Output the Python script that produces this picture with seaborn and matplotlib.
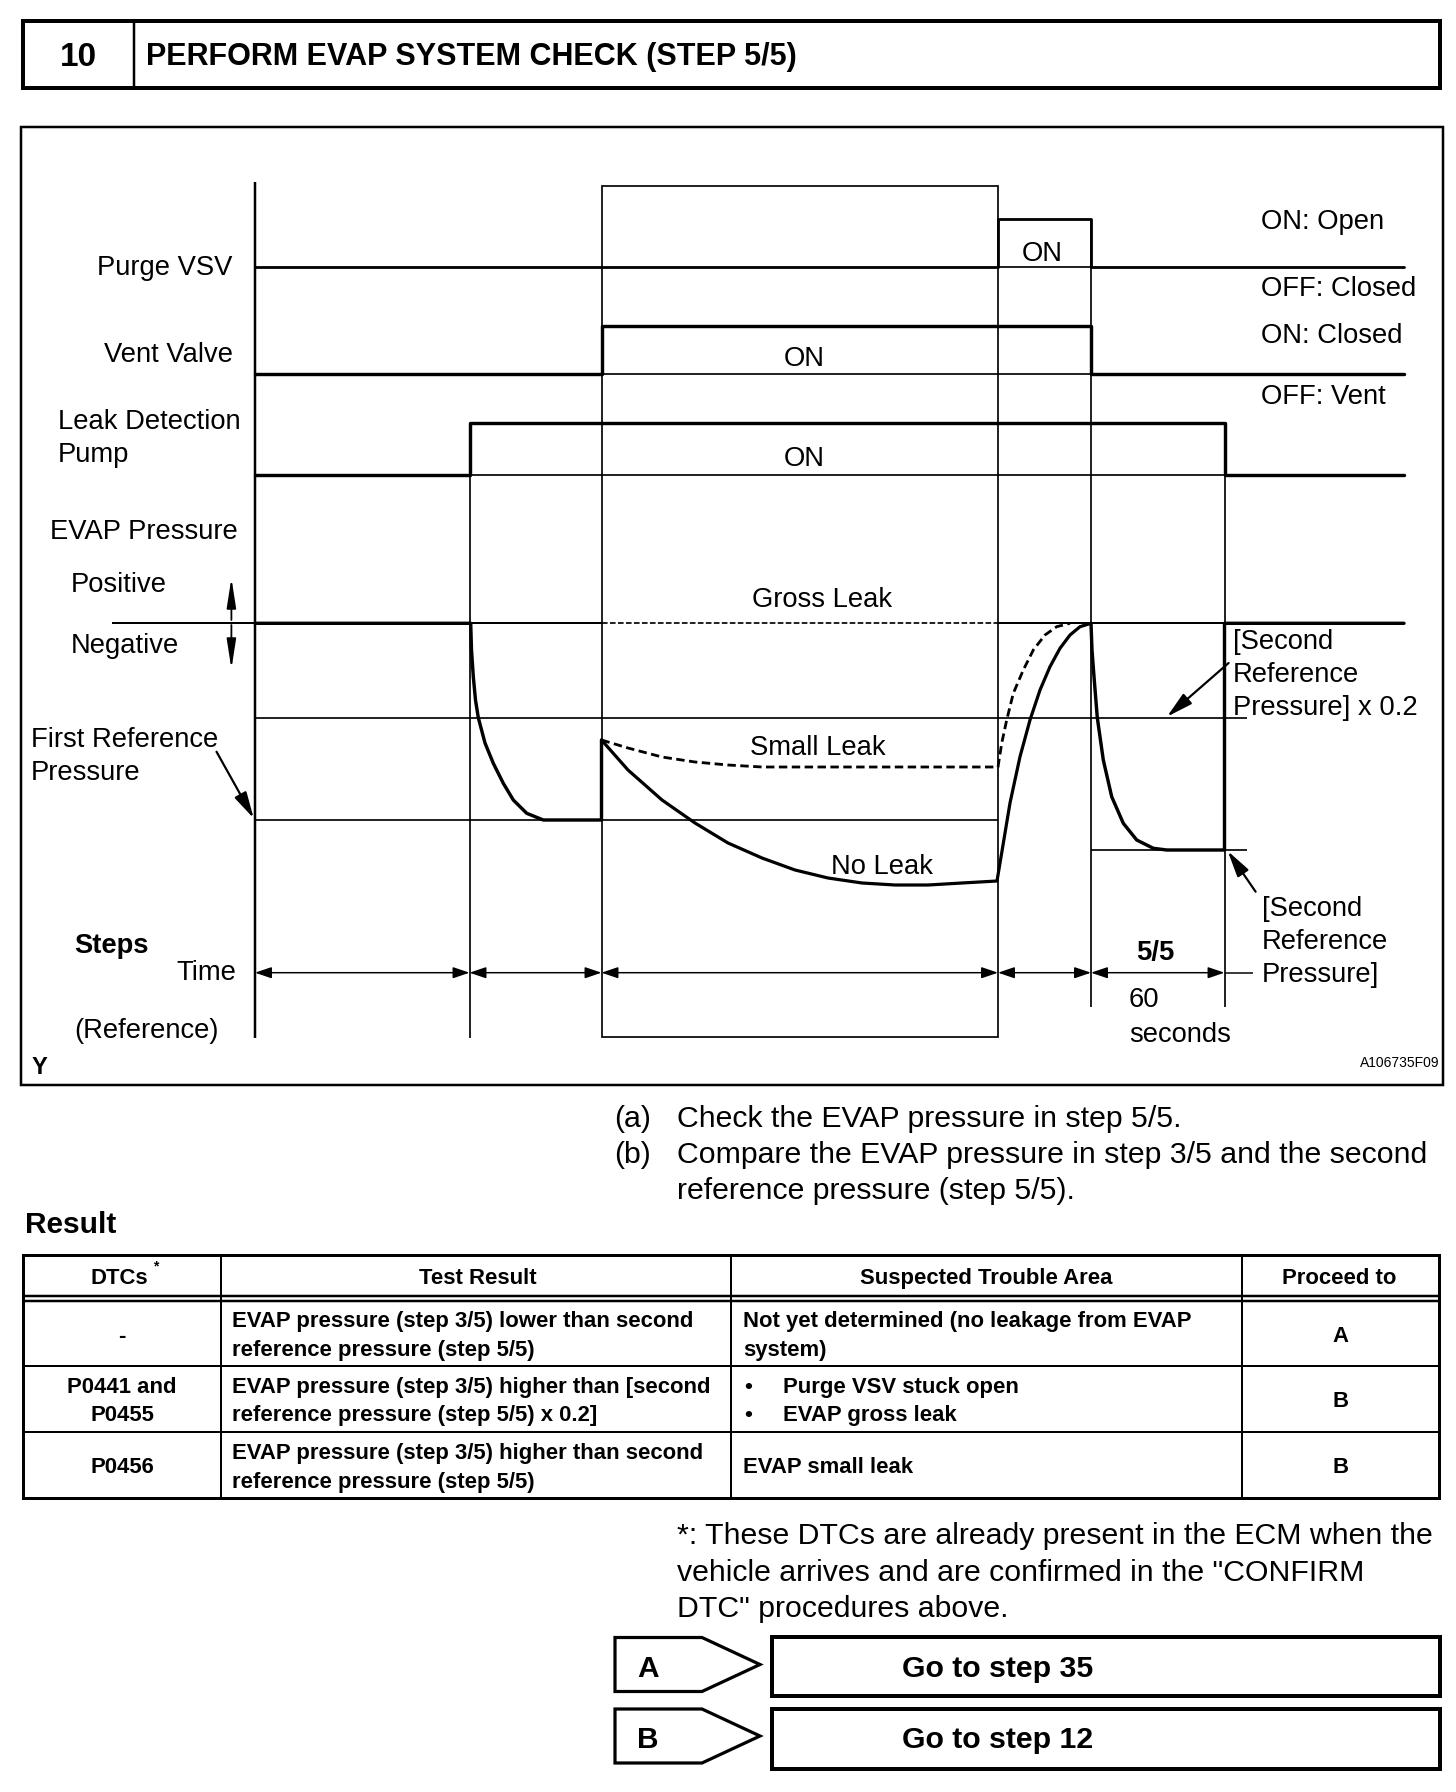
import seaborn as sns
import matplotlib.pyplot as plt
from matplotlib.patches import Rectangle, Polygon

# ---------------- data ----------------
# step boundaries on the time axis (diagram x units)
step_edges = [255, 469.5, 601.5, 998, 1091, 1224.5]
trace_end = 1404

# on/off states of the three actuators
purge_t = [255, 998, 1091, 1404]
purge_on = [0, 1, 0, 0]
vent_t = [255, 601.5, 1091, 1404]
vent_on = [0, 1, 0, 0]
pump_t = [255, 469.5, 1224.5, 1404]
pump_on = [0, 1, 0, 0]
off_level = [266.7, 374.3, 475]
on_level = [219, 326, 423.3]

# EVAP pressure reference levels
p_zero = 623.3
p_ref2_x02 = 717.7
p_ref1 = 820
p_ref2 = 850

# pressure traces
pumpdown_x = [255, 469.5, 470.7, 471.5, 473.3, 475.5, 478.3, 485, 493.3, 503.3,
              513.3, 526.7, 543.3, 601.5, 601.5]
pumpdown_y = [623.3, 623.3, 623.3, 650, 676.7, 700, 717.7, 743, 763.3, 783.3,
              800, 813.3, 820, 820, 740]
noleak_x = [601.5, 628, 662, 695, 728, 762, 795, 828, 862, 895, 928, 962, 997,
            1003.3, 1010, 1020, 1030, 1040, 1050, 1060, 1070, 1080, 1091]
noleak_y = [740, 770, 800, 823, 843, 858, 870, 878, 883, 885, 885, 883, 881,
            843.3, 803, 756.7, 720, 690, 666.7, 648.3, 635, 626.7, 623.3]
smallleak_x = [601.5, 628, 662, 695, 728, 762, 998, 1001.7, 1006.7, 1013.3,
               1023.3, 1033.3, 1045, 1056.7, 1070]
smallleak_y = [740, 748, 757, 762, 765, 767, 767, 743.3, 720, 693.3,
               670, 650, 635, 626.7, 623.3]
grossleak_x = [601.5, 998]
grossleak_y = [623.3, 623.3]
step5_x = [1091, 1092, 1094, 1097.3, 1103.3, 1111.7, 1123.3, 1136.7, 1153.3,
           1166.7, 1224.5, 1224.5, 1404]
step5_y = [623.3, 650, 676.7, 717.7, 760, 796.7, 823.3, 840, 848.3,
           850, 850, 623.3, 623.3]

# text content
title_no = '10'
title = 'PERFORM EVAP SYSTEM CHECK (STEP 5/5)'
instructions = [('(a)', ['Check the EVAP pressure in step 5/5.']),
                ('(b)', ['Compare the EVAP pressure in step 3/5 and the second',
                         'reference pressure (step 5/5).'])]
table_header = ['DTCs', 'Test Result', 'Suspected Trouble Area', 'Proceed to']
dtc_codes = [['-'], ['P0441 and', 'P0455'], ['P0456']]
test_results = [['EVAP pressure (step 3/5) lower than second',
                 'reference pressure (step 5/5)'],
                ['EVAP pressure (step 3/5) higher than [second',
                 'reference pressure (step 5/5) x 0.2]'],
                ['EVAP pressure (step 3/5) higher than second',
                 'reference pressure (step 5/5)']]
trouble_areas = [['Not yet determined (no leakage from EVAP', 'system)'],
                 ['\u2022Purge VSV stuck open', '\u2022EVAP gross leak'],
                 ['EVAP small leak']]
proceed_to = ['A', 'B', 'B']
footnote = ['*: These DTCs are already present in the ECM when the',
            'vehicle arrives and are confirmed in the "CONFIRM',
            'DTC" procedures above.']
goto_labels = ['A', 'B']
goto_steps = ['Go to step 35', 'Go to step 12']

# ---------------- styling ----------------
sns.set_style('white')
plt.rcParams['font.family'] = ['Liberation Sans', 'DejaVu Sans']
PX = 0.72  # points per pixel at 100 dpi
K = 'black'

fig = plt.figure(figsize=(14.56, 17.92), dpi=100)
ax = fig.add_axes([0, 0, 1, 1])
ax.set_xlim(0, 1456)
ax.set_ylim(1792, 0)
ax.axis('off')


def lw(px):
    return px * PX


def txt(x, y, s, size, ha='left', weight='normal', **kw):
    # y is the middle of the capitals; convert to baseline
    base = y + 0.358 * size / PX
    ax.text(x, base, s, fontsize=size, ha=ha, va='baseline',
            fontweight=weight, color=K, **kw)


def hline(y, x0, x1, w=1.7, **kw):
    ax.plot([x0, x1], [y, y], color=K, lw=lw(w), solid_capstyle='butt', **kw)


def vline(x, y0, y1, w=1.7, **kw):
    ax.plot([x, x], [y0, y1], color=K, lw=lw(w), solid_capstyle='butt', **kw)


def arrow(p0, p1, style='-|>', hl=0.8, hw=0.2, w=2.0):
    ax.annotate('', xy=p1, xytext=p0,
                arrowprops=dict(arrowstyle=f'{style},head_length={hl},head_width={hw}',
                                color=K, lw=lw(w), shrinkA=0, shrinkB=0,
                                mutation_scale=20))


# ---------------- header ----------------
ax.add_patch(Rectangle((23, 21), 1417, 67, fill=False, ec=K, lw=lw(4)))
vline(133.5, 21, 88, w=2.5)
txt(78, 54, title_no, 24, ha='center', weight='bold')
txt(146.5, 54, title, 22.0, weight='bold')

# ---------------- timing diagram ----------------
ax.add_patch(Rectangle((21, 127), 1422, 958, fill=False, ec=K, lw=lw(2.5)))

FS = 19.7
# grid / frame lines
vline(step_edges[0], 181.7, 1038, w=2.5)
vline(step_edges[1], on_level[2], 1038)
ax.add_patch(Rectangle((step_edges[2], 185.7), step_edges[3] - step_edges[2],
                       1036.7 - 185.7, fill=False, ec=K, lw=lw(1.7)))
vline(step_edges[4], on_level[0], 1006.7)
vline(step_edges[5], on_level[2], 1006.7)

# actuator traces
for i, (t, s, w) in enumerate([(purge_t, purge_on, 2.8),
                               (vent_t, vent_on, 3.4),
                               (pump_t, pump_on, 3.4)]):
    y = [off_level[i] - v * (off_level[i] - on_level[i]) for v in s]
    sns.lineplot(x=t, y=y, ax=ax, color=K, lw=lw(w), drawstyle='steps-post',
                 estimator=None, legend=False)
hline(off_level[0], purge_t[1], purge_t[2])
hline(off_level[1], vent_t[1], vent_t[2])
hline(off_level[2], pump_t[1], pump_t[2])

# pressure reference lines
hline(p_zero, 112, step_edges[0], w=2)
hline(p_zero, step_edges[1], step_edges[2], w=2)
hline(p_zero, step_edges[3], step_edges[5], w=2)
hline(p_ref2_x02, step_edges[0], 1247)
hline(p_ref1, step_edges[0], step_edges[3])
hline(p_ref2, step_edges[4], 1247)

# pressure traces
sns.lineplot(x=pumpdown_x, y=pumpdown_y, ax=ax, color=K, lw=lw(3.4),
             sort=False, estimator=None, legend=False)
sns.lineplot(x=grossleak_x, y=grossleak_y, ax=ax, color=K, lw=lw(1.7),
             linestyle=(0, (3.3, 1.4)), sort=False, estimator=None, legend=False)
sns.lineplot(x=smallleak_x, y=smallleak_y, ax=ax, color=K, lw=lw(2.8),
             linestyle=(0, (3.0, 1.6)), sort=False, estimator=None, legend=False)
sns.lineplot(x=noleak_x, y=noleak_y, ax=ax, color=K, lw=lw(3.2),
             sort=False, estimator=None, legend=False)
sns.lineplot(x=step5_x, y=step5_y, ax=ax, color=K, lw=lw(3.4),
             sort=False, estimator=None, legend=False)

# time row arrows
t_row = 972.7
for a, b in zip(step_edges[:-1], step_edges[1:]):
    arrow((a, t_row), (b, t_row), style='<|-|>', hl=0.5, hw=0.17, w=1.5)
hline(t_row, step_edges[5], 1253, w=1.5)

# pointer arrows
arrow((216.5, 751.7), (253.7, 818.3), w=2.2)
arrow((1228.6, 663), (1167, 716.7), w=2.2)
arrow((1255.6, 891.7), (1227.7, 851), w=2.2)
arrow((231.4, 620), (231.4, 578), hl=0.9, hw=0.14, w=1.8)
arrow((231.4, 625), (231.4, 669), hl=0.9, hw=0.14, w=1.8)

# diagram labels
txt(232, 265, 'Purge VSV', FS, ha='right')
txt(232.8, 352, 'Vent Valve', FS, ha='right')
txt(58, 419, 'Leak Detection', FS)
txt(58, 452, 'Pump', FS)
txt(50, 529, 'EVAP Pressure', FS)
txt(71, 582, 'Positive', FS)
txt(71, 643, 'Negative', FS)
txt(31, 737, 'First Reference', FS)
txt(31, 770, 'Pressure', FS)
txt(74.5, 943, 'Steps', FS, weight='bold')
txt(236, 970, 'Time', FS, ha='right')
txt(74.5, 1028, '(Reference)', FS)
txt(32, 1066, 'Y', 17, weight='bold')

txt(1042, 251, 'ON', FS, ha='center')
txt(804.5, 356, 'ON', FS, ha='center')
txt(804.5, 456.5, 'ON', FS, ha='center')
txt(1261, 219, 'ON: Open', FS)
txt(1261, 286, 'OFF: Closed', FS)
txt(1261, 333, 'ON: Closed', FS)
txt(1261, 394, 'OFF: Vent', FS)

txt(822, 597.5, 'Gross Leak', FS, ha='center')
txt(818, 745, 'Small Leak', FS, ha='center')
txt(882, 864, 'No Leak', FS, ha='center')

for y, s in zip([639, 672, 705], ['[Second', 'Reference', 'Pressure] x 0.2']):
    txt(1233, y, s, FS)
for y, s in zip([906, 939.5, 972.6], ['[Second', 'Reference', 'Pressure]']):
    txt(1262, y, s, FS)
txt(1155.6, 950, '5/5', FS, ha='center', weight='bold')
txt(1129, 997.7, '60', FS)
txt(1129, 1032, 'seconds', FS)
txt(1439, 1062, 'A106735F09', 10, ha='right')

# ---------------- instructions ----------------
BS = 21.8
iy = [1116, 1152]
for (tag, lines), y in zip(instructions, iy):
    txt(614, y, tag, BS)
    for j, line in enumerate(lines):
        txt(677, y + 36 * j, line, BS)

txt(25, 1222, 'Result', 21.5, weight='bold')

# ---------------- result table ----------------
col_x = [23, 221, 731, 1241.5, 1439]
row_y = [1255, 1296.5, 1301.5, 1366, 1432.3, 1498.5]
TS = 15.9
ax.add_patch(Rectangle((col_x[0], row_y[0]), col_x[-1] - col_x[0],
                       row_y[-1] - row_y[0], fill=False, ec=K, lw=lw(3)))
for x in col_x[1:-1]:
    vline(x, row_y[0], row_y[-1], w=2)
hline(row_y[1], col_x[0], col_x[-1], w=2.5)
hline(row_y[2], col_x[0], col_x[-1], w=2.5)
for y in row_y[3:5]:
    hline(y, col_x[0], col_x[-1], w=2)

hy = (row_y[0] + row_y[1]) / 2
txt(119, hy, table_header[0], TS, ha='center', weight='bold')
txt(153, hy - 10, '*', 10, weight='bold')
for c, s in zip([477.5, 986.5, 1339.5], table_header[1:]):
    txt(c, hy, s, TS, ha='center', weight='bold')

bounds = row_y[2:]
for r in range(3):
    mid = (bounds[r] + bounds[r + 1]) / 2

    def cell_lines(lines):
        n = len(lines)
        return [mid + 28.4 * (j - (n - 1) / 2) for j in range(n)]

    for y, s in zip(cell_lines(dtc_codes[r]), dtc_codes[r]):
        txt(122, y, s, TS, ha='center', weight='bold')
    for y, s in zip(cell_lines(test_results[r]), test_results[r]):
        txt(232, y, s, TS, weight='bold')
    for y, s in zip(cell_lines(trouble_areas[r]), trouble_areas[r]):
        if s.startswith('\u2022'):
            txt(744, y, '\u2022', TS, weight='bold')
            txt(783, y, s[1:], TS, weight='bold')
        else:
            txt(743, y, s, TS, weight='bold')
    txt(1340.5, mid, proceed_to[r], TS, ha='center', weight='bold')

# ---------------- footnote ----------------
for y, s in zip([1533, 1570, 1606], footnote):
    txt(677, y, s, BS)

# ---------------- go-to boxes ----------------
box_top = [1637.5, 1709]
tag_h = [54, 54]
box_h = [59, 60]
for top, th, bh, tag, step in zip(box_top, tag_h, box_h, goto_labels, goto_steps):
    ax.add_patch(Polygon([(615, top), (702, top), (760, top + th / 2),
                          (702, top + th), (615, top + th)],
                         closed=True, fill=False, ec=K, lw=lw(3.2)))
    ax.add_patch(Rectangle((772, top), 1440 - 772, bh, fill=False, ec=K, lw=lw(4)))
    txt(648, top + 28.5, tag, 21.5, ha='center', weight='bold')
    txt(998, top + 28.5, step, 21.8, ha='center', weight='bold')

fig.savefig('out.png', dpi=100, facecolor='white')
plt.close(fig)
